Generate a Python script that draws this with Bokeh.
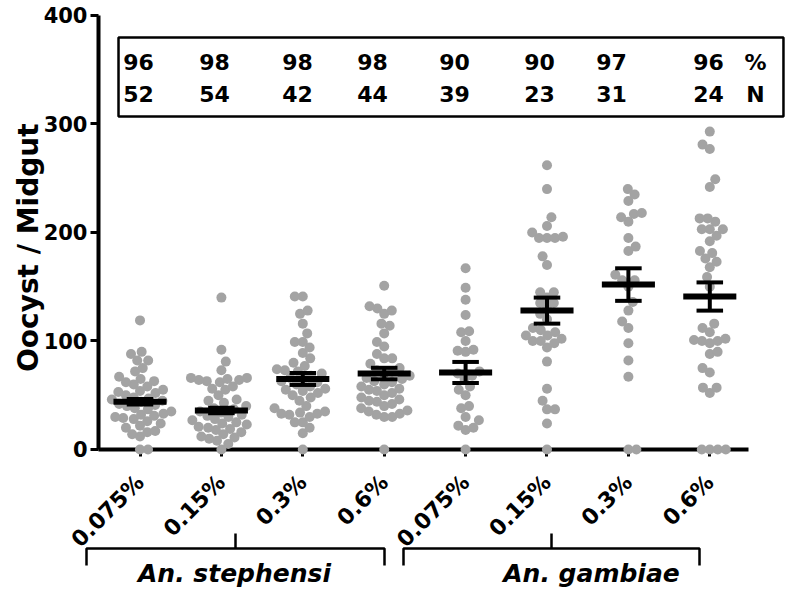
import math
from bokeh.plotting import figure
from bokeh.models import Range1d, FixedTicker, BoxAnnotation
from bokeh.core.properties import value
from bokeh.embed import file_html
from bokeh.resources import INLINE

# ---------------- data ----------------
categories = [1, 2, 3, 4, 5, 6, 7, 8]
concentrations = ["0.075%", "0.15%", "0.3%", "0.6%", "0.075%", "0.15%", "0.3%", "0.6%"]
species = ["An. stephensi", "An. gambiae"]
prevalence = ["96", "98", "98", "98", "90", "90", "97", "96"]
n_counts = ["52", "54", "42", "44", "39", "23", "31", "24"]
y_ticks = [0, 100, 200, 300, 400]

means = [44, 36, 65, 70, 71, 128, 152, 141]
sems = [2.5, 2.5, 5.5, 5.3, 9.7, 12, 15, 13]

g1 = [0, 0, 12, 14, 16, 17, 20, 22, 24, 26, 28, 29, 30, 31, 32, 33, 35, 37, 38, 40,
      41, 42, 44, 45, 46, 47, 48, 50, 52, 53, 54, 55, 58, 60, 62, 63, 65, 67, 72, 75,
      82, 82, 88, 90, 119]
g2 = [0, 5, 8, 10, 11, 12, 14, 16, 18, 19, 20, 21, 23, 24, 25, 27, 28, 30, 31, 32,
      34, 35, 37, 38, 40, 43, 45, 46, 50, 55, 56, 58, 62, 63, 64, 64, 65, 66, 66, 73,
      81, 92, 140]
g3 = [0, 15, 20, 25, 25, 30, 32, 33, 33, 34, 35, 38, 40, 45, 48, 50, 52, 54, 55, 56,
      58, 60, 62, 63, 65, 66, 68, 70, 72, 73, 74, 77, 80, 84, 89, 94, 99, 99, 107, 116,
      125, 128, 141, 141]
g4 = [0, 30, 30, 32, 33, 35, 36, 38, 40, 42, 44, 45, 46, 48, 50, 52, 54, 55, 56, 58,
      60, 62, 63, 65, 66, 68, 70, 72, 73, 75, 79, 84, 84, 88, 95, 99, 107, 114, 116, 125,
      128, 130, 132, 151]
g5 = [0, 18, 20, 22, 27, 30, 38, 40, 50, 55, 58, 65, 68, 70, 72, 90, 91, 92, 100, 108,
      109, 124, 138, 149, 167]
g6 = [0, 24, 37, 37, 45, 56, 81, 94, 98, 100, 100, 102, 105, 105, 108, 110, 112, 120,
      125, 130, 135, 135, 140, 145, 145, 170, 178, 195, 195, 195, 196, 200, 206, 214,
      240, 262]
g7 = [0, 0, 67, 82, 98, 112, 118, 128, 136, 150, 156, 156, 161, 183, 187, 195, 210, 214,
      217, 218, 229, 235, 240]
g8 = [0, 0, 0, 0, 52, 57, 57, 71, 75, 88, 90, 98, 100, 100, 101, 102, 108, 112, 116, 150,
      159, 168, 173, 176, 181, 183, 192, 197, 203, 203, 203, 210, 213, 213, 242, 249, 277,
      281, 293]
groups = [g1, g2, g3, g4, g5, g6, g7, g8]

# ---------------- layout ----------------
W, H = 800, 593
X0, X1 = -0.7138, 9.1143
Y0, Y1 = -132.72, 413.82
KX = W / (X1 - X0)   # px per category unit
KY = H / (Y1 - Y0)   # px per value unit
DOT = 10.0
GAP = 8.0       # horizontal spacing (px)
VSTRETCH = 1.3  # points closer than GAP*VSTRETCH vertically are spread sideways
FONT = "DejaVu Sans"


def swarm(vals, d=GAP, s=VSTRETCH):
    placed = []
    offs = [0.0] * len(vals)
    order = sorted(range(len(vals)), key=lambda k: vals[k])
    sgn = 1
    for k in order:
        y = vals[k] * KY / s
        near = [(px, py) for px, py in placed if abs(py - y) < d]
        cands = [0.0]
        for px, py in near:
            dx = math.sqrt(max(d * d - (py - y) ** 2, 0.0))
            cands += [px - dx, px + dx]
        best = 0.0
        for c in sorted(cands, key=lambda c: (round(abs(c), 3), -sgn * c)):
            if all((c - px) ** 2 + (py - y) ** 2 >= d * d - 1e-6 for px, py in near):
                best = c
                break
        if best != 0:
            sgn = -sgn
        placed.append((best, y))
        offs[k] = best
    return offs


xs, ys = [], []
for cat, vals in zip(categories, groups):
    for o, v in zip(swarm(vals), vals):
        xs.append(cat + o / KX)
        ys.append(v)

p = figure(width=W, height=H, output_backend="svg", toolbar_location=None,
           x_range=Range1d(X0, X1), y_range=Range1d(Y0, Y1), min_border=0,
           background_fill_color="white", border_fill_color="white")
p.outline_line_color = None
p.xgrid.visible = False
p.ygrid.visible = False

# y axis
ya = p.yaxis[0]
ya.fixed_location = 0.49
ya.bounds = (0, 400)
ya.ticker = FixedTicker(ticks=y_ticks)
ya.axis_line_width = 4
ya.major_tick_line_width = 3
ya.major_tick_out = 8
ya.major_tick_in = 0
ya.minor_tick_line_color = None
ya.major_label_standoff = 3
ya.major_label_text_font = FONT
ya.major_label_text_font_style = "bold"
ya.major_label_text_font_size = "21px"
ya.major_label_text_color = "black"

# x axis
xa = p.xaxis[0]
xa.fixed_location = 0
xa.bounds = (0.49, 8.475)
xa.ticker = FixedTicker(ticks=categories)
xa.major_label_overrides = {c: t for c, t in zip(categories, concentrations)}
xa.axis_line_width = 4
xa.major_tick_line_width = 3
xa.major_tick_out = 7
xa.major_tick_in = 0
xa.minor_tick_line_color = None
xa.major_label_orientation = math.pi / 4
xa.major_label_standoff = 22
xa.major_label_text_font = FONT
xa.major_label_text_font_style = "bold"
xa.major_label_text_font_size = "22px"
xa.major_label_text_color = "black"
xa.level = "underlay"

# points
p.scatter(xs, ys, size=DOT, color="#a3a3a3", line_color=None)

# mean and SEM
p.segment(x0=[c - 0.326 for c in categories], x1=[c + 0.326 for c in categories],
          y0=means, y1=means, line_color="black", line_width=6)
p.segment(x0=categories, x1=categories,
          y0=[m - s for m, s in zip(means, sems)], y1=[m + s for m, s in zip(means, sems)],
          line_color="black", line_width=4)
for sign in (-1, 1):
    yy = [m + sign * s for m, s in zip(means, sems)]
    p.segment(x0=[c - 0.163 for c in categories], x1=[c + 0.163 for c in categories],
              y0=yy, y1=yy, line_color="black", line_width=4)

# info box
p.add_layout(BoxAnnotation(left=0.736, right=8.905, bottom=306.9, top=379.7,
                           fill_color=None, fill_alpha=0, line_color="black",
                           line_alpha=1.0, line_width=2.5))
col_x = [0.9816, 1.915, 2.935, 3.857, 4.864, 5.908, 6.792, 7.984]
p.text(x=col_x + [8.562], y=[356.7] * 9, text=prevalence + ["%"],
       text_align="center", text_baseline="middle", text_font=value(FONT),
       text_font_style="bold", text_font_size="22px", text_color="black")
p.text(x=col_x + [8.562], y=[327.2] * 9, text=n_counts + ["N"],
       text_align="center", text_baseline="middle", text_font=value(FONT),
       text_font_style="bold", text_font_size="22px", text_color="black")

# y axis title
p.text(x=[-0.37], y=[186], text=["Oocyst / Midgut"], angle=math.pi / 2,
       text_align="center", text_baseline="middle", text_font=value(FONT),
       text_font_style="bold", text_font_size="28px", text_color="black")

# species brackets
def bx(px):
    return 1 + (px - 139.5) / KX

def by(py):
    return (449 - py) / KY

br = [(86, 384, 235), (403, 699, 551)]
mx, my = [], []
for l, r, t in br:
    mx.append([bx(l), bx(l), bx(r), bx(r)])
    my.append([by(565), by(548), by(548), by(565)])
    mx.append([bx(t), bx(t)])
    my.append([by(548), by(533)])
p.multi_line(mx, my, line_color="black", line_width=2.5)

p.text(x=[bx(234), bx(591)], y=[by(573)] * 2, text=species,
       text_align="center", text_baseline="middle", text_font=value(FONT),
       text_font_style="bold italic", text_font_size="25px", text_color="black")

open("out.html", "w").write(file_html(p, INLINE))
